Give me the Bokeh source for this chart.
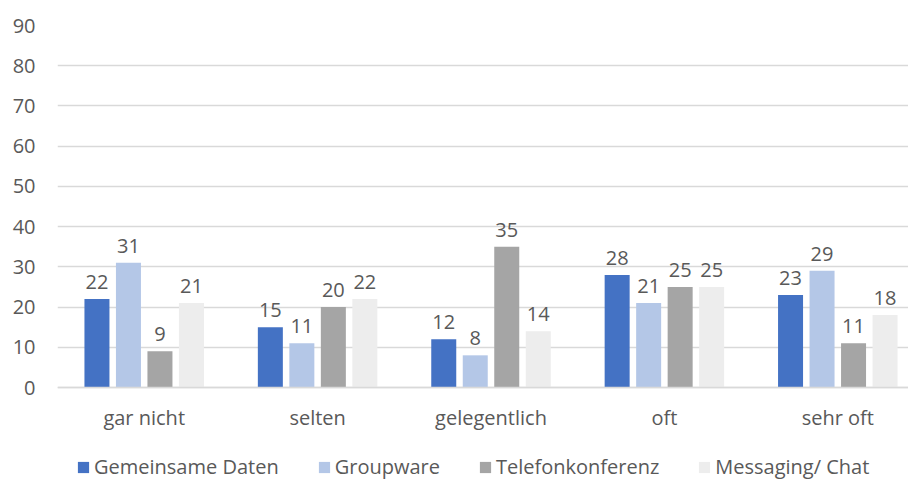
from bokeh.plotting import figure
from bokeh.models import Range1d, Legend, LegendItem, ColumnDataSource, FixedTicker
from bokeh.embed import file_html
from bokeh.resources import INLINE
from bokeh.core.properties import value

categories = ["gar nicht", "selten", "gelegentlich", "oft", "sehr oft"]
series_names = ["Gemeinsame Daten", "Groupware", "Telefonkonferenz", "Messaging/ Chat"]
gemeinsame_daten = [22, 15, 12, 28, 23]
groupware = [31, 11, 8, 21, 29]
telefonkonferenz = [9, 20, 35, 25, 11]
messaging_chat = [21, 22, 14, 25, 18]
y_ticks = [0, 10, 20, 30, 40, 50, 60, 70, 80, 90]

series = [gemeinsame_daten, groupware, telefonkonferenz, messaging_chat]
colors = ["#4472C4", "#B4C7E7", "#A5A5A5", "#EDEDED"]

FONT = "Open Sans"
TXT = "#595959"

PX_PER_UNIT = 362 / 90
FRAME_H = 455
Y_START = -(FRAME_H - 362) / PX_PER_UNIT

p = figure(frame_width=851, frame_height=FRAME_H, output_backend="svg", toolbar_location=None,
           x_range=Range1d(0, 851 / 173.4), y_range=Range1d(Y_START, 90))
p.min_border_left = 57
p.min_border_right = 0
p.min_border_top = 25
p.min_border_bottom = 0
p.outline_line_color = None
p.background_fill_color = "white"
p.border_fill_color = "white"

p.xgrid.grid_line_color = None
p.ygrid.grid_line_color = "#D9D9D9"
p.ygrid.grid_line_width = 1.3
p.ygrid.ticker = FixedTicker(ticks=y_ticks)

p.yaxis.ticker = FixedTicker(ticks=y_ticks)
p.yaxis.axis_line_color = None
p.yaxis.major_tick_line_color = None
p.yaxis.minor_tick_line_color = None
p.yaxis.major_label_standoff = 16
p.yaxis.major_label_text_font = FONT
p.yaxis.major_label_text_font_size = "20px"
p.yaxis.major_label_text_color = TXT

centers = [i + 0.5 for i in range(len(categories))]
p.xaxis.fixed_location = 0
p.xaxis.ticker = FixedTicker(ticks=centers)
p.xaxis.major_label_overrides = {c: lab for c, lab in zip(centers, categories)}
p.xaxis.axis_line_color = "#D9D9D9"
p.xaxis.axis_line_width = 1.3
p.xaxis.major_tick_line_color = None
p.xaxis.minor_tick_line_color = None
p.xaxis.major_label_standoff = 10
p.xaxis.major_label_text_font = FONT
p.xaxis.major_label_text_font_size = "20px"
p.xaxis.major_label_text_color = TXT

bar_w = 25 / 173.4
step = 31.5 / 173.4
items = []
for k, (name, vals, col) in enumerate(zip(series_names, series, colors)):
    xs = [c + (k - 1.5) * step for c in centers]
    src = ColumnDataSource(dict(x=xs, top=vals, lab=[str(v) for v in vals]))
    r = p.vbar(x="x", top="top", bottom=0, width=bar_w, source=src,
               fill_color=col, line_color=None)
    p.text(x="x", y="top", text="lab", source=src, text_align="center",
           text_baseline="alphabetic", y_offset=-17,
           text_font=value(FONT), text_font_size="20px", text_color=TXT)
    items.append(LegendItem(label=name, renderers=[r]))

legend = Legend(items=items, orientation="horizontal", location=(19, 0))
legend.label_text_font = FONT
legend.label_text_font_size = "20px"
legend.label_text_color = TXT
legend.glyph_width = 14
legend.glyph_height = 14
legend.label_standoff = 4
legend.spacing = 38
legend.padding = 0
legend.margin = 0
legend.border_line_color = None
legend.background_fill_alpha = 0
p.add_layout(legend, "center")

open("out.html", "w").write(file_html(p, INLINE))
